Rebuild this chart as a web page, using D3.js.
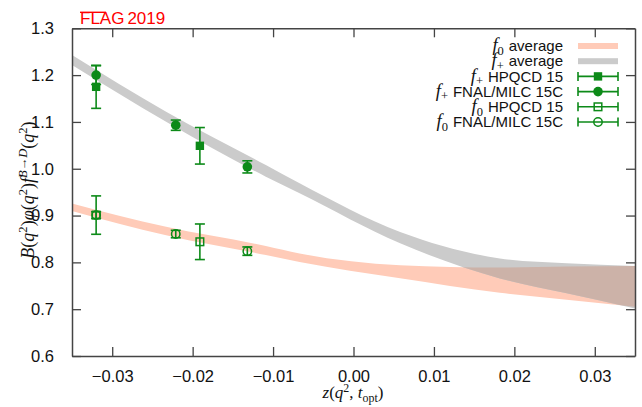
<!DOCTYPE html>
<html><head><meta charset="utf-8">
<script src="https://cdn.jsdelivr.net/npm/d3@7"></script>
<style>body{margin:0;background:#fff}svg{display:block}</style>
</head><body>
<svg id="c" width="642" height="407"></svg>
<script>
// ---- data ----
const xTicks = [-0.03, -0.02, -0.01, 0.00, 0.01, 0.02, 0.03];
const yTicks = [0.6, 0.7, 0.8, 0.9, 1.0, 1.1, 1.2, 1.3];

const bandZ        = [-0.035, -0.0233, -0.0109, -0.0067, 0.0058, 0.0182, 0.0265, 0.035];
const fplusUpper   = [1.243, 1.122, 1.008, 0.969, 0.865, 0.8085, 0.798, 0.792];
const fplusLower   = [1.2216, 1.1004, 0.983, 0.9475, 0.8406, 0.7658, 0.7338, 0.7017];
const fzeroUpper   = [0.926, 0.876, 0.835, 0.819, 0.794, 0.789, 0.791, 0.792];
const fzeroLower   = [0.910, 0.858, 0.8156, 0.801, 0.766, 0.735, 0.720, 0.705];

const hpqcdZ       = [-0.0320, -0.0191];
const fplusHpqcd   = [1.175, 1.049];
const fplusHpqcdE  = [0.046, 0.039];
const fzeroHpqcd   = [0.901, 0.844];
const fzeroHpqcdE  = [0.041, 0.038];

const fnalZ        = [-0.0320, -0.0221, -0.0132];
const fplusFnal    = [1.200, 1.093, 1.004];
const fplusFnalE   = [0.020, 0.011, 0.013];
const fzeroFnal    = [0.901, 0.8605, 0.824];
const fzeroFnalE   = [0.007, 0.008, 0.009];

const legendLabels = [
  ["0", "average"], ["+", "average"], ["+", "HPQCD 15"],
  ["+", "FNAL/MILC 15C"], ["0", "HPQCD 15"], ["0", "FNAL/MILC 15C"]
];

// ---- layout ----
const svg = d3.select("#c");
const L = 72, R = 635, T = 28.3, B = 356;
const x = d3.scaleLinear().domain([-0.035, 0.035]).range([L, R]);
const y = d3.scaleLinear().domain([0.6, 1.3]).range([B, T]);

const PINK = "#ffcbb8", GRAY = "#cbcbcb", OVER = "#ccb2a8", GREEN = "#0c8a18", AX = "#444";
const sans = "'Liberation Sans', Arial, sans-serif";
const serif = "'Liberation Serif', 'DejaVu Serif', serif";

// bands
const bandData = (up, lo) => bandZ.map((z, i) => ({z, u: up[i], l: lo[i]}));
const area = d3.area().x(d => x(d.z)).y0(d => y(d.l)).y1(d => y(d.u)).curve(d3.curveMonotoneX);
const pinkD = area(bandData(fzeroUpper, fzeroLower));
const grayD = area(bandData(fplusUpper, fplusLower));

svg.append("clipPath").attr("id", "plot").append("rect")
  .attr("x", L).attr("y", T).attr("width", R - L).attr("height", B - T);
svg.append("clipPath").attr("id", "pinkclip").append("path").attr("d", pinkD);

const gb = svg.append("g").attr("clip-path", "url(#plot)");
gb.append("path").attr("d", pinkD).attr("fill", PINK);
gb.append("path").attr("d", grayD).attr("fill", GRAY);
gb.append("g").attr("clip-path", "url(#pinkclip)")
  .append("path").attr("d", grayD).attr("fill", OVER);

// axes box with inward ticks
const ax = svg.append("g");
ax.append("g").attr("transform", `translate(0,${B})`)
  .call(d3.axisBottom(x).tickValues(xTicks).tickSizeInner(-9).tickSizeOuter(0).tickPadding(14).tickFormat(d3.format(".2f")));
ax.append("g").attr("transform", `translate(0,${T})`)
  .call(d3.axisTop(x).tickValues(xTicks).tickSizeInner(-9).tickSizeOuter(0).tickFormat(""));
ax.append("g").attr("transform", `translate(${L},0)`)
  .call(d3.axisLeft(y).tickValues(yTicks).tickSizeInner(-9).tickSizeOuter(0).tickPadding(18).tickFormat(d3.format(".1f")));
ax.append("g").attr("transform", `translate(${R},0)`)
  .call(d3.axisRight(y).tickValues(yTicks).tickSizeInner(-9).tickSizeOuter(0).tickFormat(""));
ax.selectAll(".domain").attr("stroke", AX).attr("stroke-width", 1.5);
ax.selectAll(".tick line").attr("stroke", AX).attr("stroke-width", 1.3);
ax.selectAll(".tick text").attr("font-family", sans).attr("font-size", 16.5).attr("fill", "#111");

// error bars & markers
function errorBars(zs, vs, es) {
  const g = svg.append("g").attr("stroke", GREEN).attr("stroke-width", 1.6);
  zs.forEach((z, i) => {
    const cx = x(z), y1 = y(vs[i] + es[i]), y2 = y(vs[i] - es[i]);
    g.append("line").attr("x1", cx).attr("x2", cx).attr("y1", y1).attr("y2", y2);
    g.append("line").attr("x1", cx - 5).attr("x2", cx + 5).attr("y1", y1).attr("y2", y1);
    g.append("line").attr("x1", cx - 5).attr("x2", cx + 5).attr("y1", y2).attr("y2", y2);
  });
}
function marker(g, cx, cy, kind) {
  if (kind === "fsq") g.append("rect").attr("x", cx - 4.2).attr("y", cy - 4.2).attr("width", 8.4).attr("height", 8.4).attr("fill", GREEN);
  if (kind === "fci") g.append("circle").attr("cx", cx).attr("cy", cy).attr("r", 4.8).attr("fill", GREEN);
  if (kind === "osq") g.append("rect").attr("x", cx - 3.8).attr("y", cy - 3.8).attr("width", 7.6).attr("height", 7.6).attr("fill", "none").attr("stroke", GREEN).attr("stroke-width", 1.5);
  if (kind === "oci") g.append("circle").attr("cx", cx).attr("cy", cy).attr("r", 4.2).attr("fill", "none").attr("stroke", GREEN).attr("stroke-width", 1.5);
}
function series(zs, vs, es, kind) {
  errorBars(zs, vs, es);
  const g = svg.append("g");
  zs.forEach((z, i) => marker(g, x(z), y(vs[i]), kind));
}
series(fnalZ, fzeroFnal, fzeroFnalE, "oci");
series(hpqcdZ, fzeroHpqcd, fzeroHpqcdE, "osq");
series(fnalZ, fplusFnal, fplusFnalE, "fci");
series(hpqcdZ, fplusHpqcd, fplusHpqcdE, "fsq");

// legend
const kinds = ["pink", "gray", "fsq", "fci", "osq", "oci"];
const lg = svg.append("g");
legendLabels.forEach((lab, i) => {
  const ry = 46 + i * 15.2;
  const t = lg.append("text").attr("x", 563).attr("y", ry + 5.2).attr("text-anchor", "end")
    .attr("font-family", sans).attr("font-size", 15).attr("fill", "#111");
  t.append("tspan").attr("font-family", serif).attr("font-style", "italic").attr("font-size", 18.5).text("f");
  t.append("tspan").attr("font-family", serif).attr("font-size", 12.5).attr("dy", 3.5).text(lab[0]);
  t.append("tspan").attr("dy", -3.5).attr("dx", 5).text(lab[1]);
  const k = kinds[i];
  if (k === "pink" || k === "gray") {
    lg.append("rect").attr("x", 578).attr("y", ry - 3).attr("width", 40).attr("height", 6).attr("fill", k === "pink" ? PINK : GRAY);
  } else {
    const g = lg.append("g").attr("stroke", GREEN).attr("stroke-width", 1.6);
    g.append("line").attr("x1", 578).attr("x2", 618).attr("y1", ry).attr("y2", ry);
    g.append("line").attr("x1", 578).attr("x2", 578).attr("y1", ry - 4.5).attr("y2", ry + 4.5);
    g.append("line").attr("x1", 618).attr("x2", 618).attr("y1", ry - 4.5).attr("y2", ry + 4.5);
    marker(lg, 598, ry, k);
  }
});

// math text helper (no empty tspans: baseline reset is carried to the next token)
function mathText(sel, tokens, size) {
  let carry = 0;
  tokens.forEach(tk => {
    const s = sel.append("tspan").text(tk.t);
    s.attr("font-style", tk.i ? "italic" : "normal");
    let dy = 0;
    if (tk.sup) { s.attr("font-size", size * 0.7); dy = -size * 0.38; }
    if (tk.sub) { s.attr("font-size", size * 0.7); dy = size * 0.22; }
    const total = carry + dy;
    if (total) s.attr("dy", total);
    carry = -dy;
  });
}

// x axis title
const xt = svg.append("text").attr("x", 353).attr("y", 398).attr("text-anchor", "middle")
  .attr("font-family", serif).attr("font-size", 17).attr("fill", "#111");
mathText(xt, [{t:"z",i:1},{t:"("},{t:"q",i:1},{t:"2",sup:1},{t:", "},{t:"t",i:1},{t:"opt",sub:1},{t:")"}], 17);

// y axis title
const yt = svg.append("text").attr("transform", "translate(34,190) rotate(-90)").attr("text-anchor", "middle")
  .attr("font-family", serif).attr("font-size", 18).attr("fill", "#111");
mathText(yt, [{t:"B",i:1},{t:"("},{t:"q",i:1},{t:"2",sup:1},{t:")"},{t:"φ",i:1},{t:"("},{t:"q",i:1},{t:"2",sup:1},{t:")"},
  {t:"f",i:1},{t:"B→D",sup:1,i:1},{t:"("},{t:"q",i:1},{t:"2",sup:1},{t:")"}], 18);

// FLAG logo
const fl = svg.append("text").attr("x", 80).attr("y", 23.5).attr("font-family", sans).attr("font-size", 17).attr("fill", "#f00");
fl.append("tspan").text("FLAG");
fl.append("tspan").attr("dx", 3).text("2019");
svg.append("line").attr("x1", 80).attr("x2", 106).attr("y1", 12.3).attr("y2", 12.3).attr("stroke", "#f00").attr("stroke-width", 1.4);
</script>
</body></html>
